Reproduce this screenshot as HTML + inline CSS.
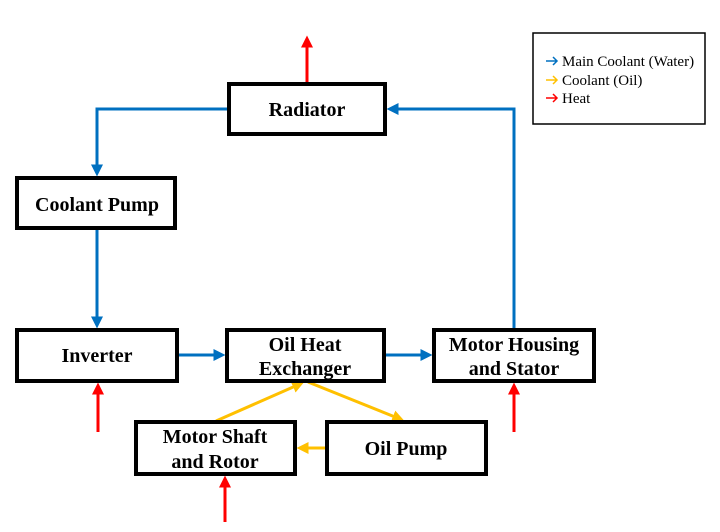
<!DOCTYPE html>
<html><head><style>
body{margin:0;background:#fff;}
svg{display:block}
.b{fill:#fff;stroke:#000;stroke-width:4}
.t{font-family:"Liberation Serif",serif;font-weight:bold;font-size:20px;text-anchor:middle}
.l{font-family:"Liberation Serif",serif;font-size:15px}
</style></head><body>
<svg width="720" height="532" viewBox="0 0 720 532">
<defs>
<marker id="bl" markerWidth="4" markerHeight="4" refX="2.5" refY="2" orient="auto" markerUnits="strokeWidth"><path d="M0,0L4,2L0,4z" fill="#0070c0"/></marker>
<marker id="ye" markerWidth="4" markerHeight="4" refX="2.5" refY="2" orient="auto" markerUnits="strokeWidth"><path d="M0,0L4,2L0,4z" fill="#ffc000"/></marker>
<marker id="re" markerWidth="4" markerHeight="4" refX="2.5" refY="2" orient="auto" markerUnits="strokeWidth"><path d="M0,0L4,2L0,4z" fill="#ff0000"/></marker>
</defs>
<g fill="none" stroke-width="3">
<path d="M229,109H97V172" stroke="#0070c0" marker-end="url(#bl)"/>
<path d="M97,228V324" stroke="#0070c0" marker-end="url(#bl)"/>
<path d="M177,355H221" stroke="#0070c0" marker-end="url(#bl)"/>
<path d="M384,355H428" stroke="#0070c0" marker-end="url(#bl)"/>
<path d="M514,330V109H391" stroke="#0070c0" marker-end="url(#bl)"/>
<path d="M307,84V40" stroke="#ff0000" marker-end="url(#re)"/>
<path d="M98,432V387" stroke="#ff0000" marker-end="url(#re)"/>
<path d="M514,432V387" stroke="#ff0000" marker-end="url(#re)"/>
<path d="M225,522V480" stroke="#ff0000" marker-end="url(#re)"/>
<path d="M216,421L300,384" stroke="#ffc000" marker-end="url(#ye)"/>
<path d="M308,382L400,419" stroke="#ffc000" marker-end="url(#ye)"/>
<path d="M327,448H301" stroke="#ffc000" marker-end="url(#ye)"/>
</g>
<rect class="b" x="229" y="84" width="156" height="50"/>
<rect class="b" x="17" y="178" width="158" height="50"/>
<rect class="b" x="17" y="330" width="160" height="51"/>
<rect class="b" x="227" y="330" width="157" height="51"/>
<rect class="b" x="434" y="330" width="160" height="51"/>
<rect class="b" x="136" y="422" width="159" height="52"/>
<rect class="b" x="327" y="422" width="159" height="52"/>
<text class="t" x="307" y="116">Radiator</text>
<text class="t" x="97" y="211">Coolant Pump</text>
<text class="t" x="97" y="362">Inverter</text>
<text class="t" x="305" y="351">Oil Heat</text>
<text class="t" x="305" y="375">Exchanger</text>
<text class="t" x="514" y="351">Motor Housing</text>
<text class="t" x="514" y="375">and Stator</text>
<text class="t" x="215" y="443">Motor Shaft</text>
<text class="t" x="215" y="468">and Rotor</text>
<text class="t" x="406" y="455">Oil Pump</text>
<rect x="533" y="33" width="172" height="91" fill="#fff" stroke="#000" stroke-width="1.5"/>
<g fill="none" stroke-width="1.5">
<path d="M546,61H557M553,57L557,61L553,65" stroke="#0070c0"/>
<path d="M546,80H557M553,76L557,80L553,84" stroke="#ffc000"/>
<path d="M546,98H557M553,94L557,98L553,102" stroke="#ff0000"/>
</g>
<text class="l" x="562" y="66">Main Coolant (Water)</text>
<text class="l" x="562" y="85">Coolant (Oil)</text>
<text class="l" x="562" y="103">Heat</text>
</svg>
</body></html>
